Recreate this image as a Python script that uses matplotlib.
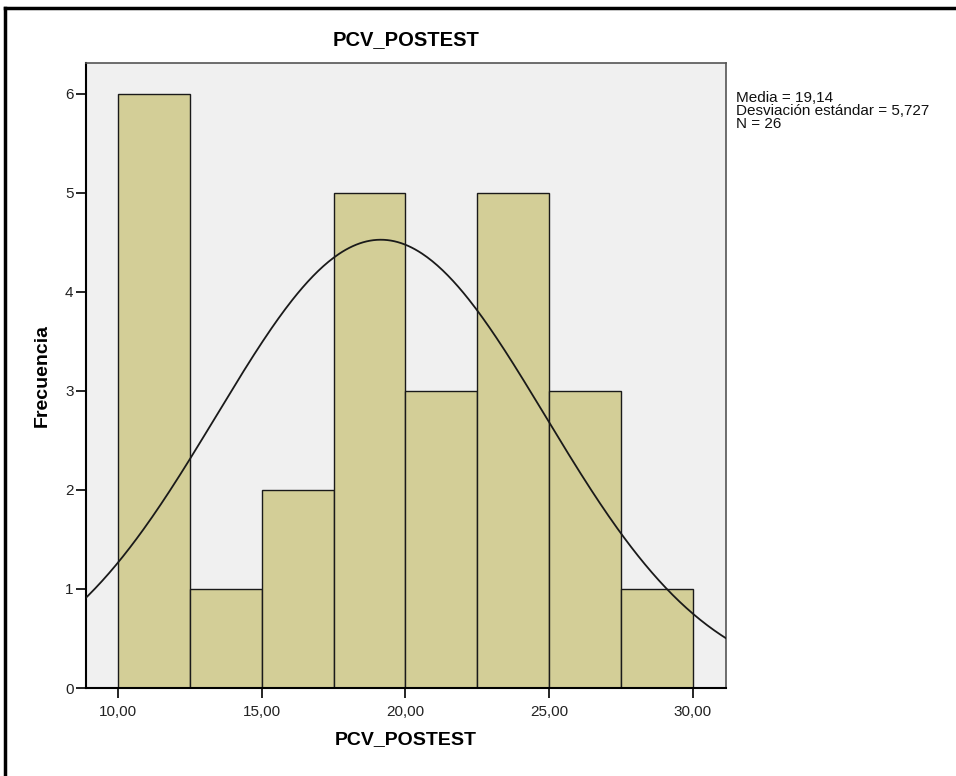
import numpy as np
import matplotlib
matplotlib.use("Agg")
import matplotlib.pyplot as plt
from matplotlib.lines import Line2D

plt.rcParams["font.family"] = ["Liberation Sans", "DejaVu Sans"]

# histogram bins (edges) and counts
BIN_EDGES = [10.0, 12.5, 15.0, 17.5, 20.0, 22.5, 25.0, 27.5, 30.0]
COUNTS = [6, 1, 2, 5, 3, 5, 3, 1]
MEAN = 19.14
STD = 5.727
N = 26
X_TICKS = [10, 15, 20, 25, 30]
X_TICK_LABELS = ["10,00", "15,00", "20,00", "25,00", "30,00"]
Y_TICKS = [0, 1, 2, 3, 4, 5, 6]
STATS_LINES = ["Media = 19,14", "Desviación estándar = 5,727", "N = 26"]

W, H = 956, 776
fig = plt.figure(figsize=(W / 100, H / 100), dpi=100)
fig.patch.set_facecolor("white")

# outer frame: only top and left edges are visible in the crop
fig.lines.append(Line2D([5 / W, 1.0], [1 - 8 / H, 1 - 8 / H],
                        transform=fig.transFigure, color="black", linewidth=2.5))
fig.lines.append(Line2D([5 / W, 5 / W], [0.0, 1 - 8 / H],
                        transform=fig.transFigure, color="black", linewidth=2.5))

left, right, top, bottom = 86, 726, 63, 688
ax = fig.add_axes([left / W, 1 - bottom / H, (right - left) / W, (bottom - top) / H])
ax.set_facecolor("#F0F0F0")

widths = np.diff(BIN_EDGES)
ax.bar(BIN_EDGES[:-1], COUNTS, width=widths, align="edge",
       color="#D3CE97", edgecolor="#1a1a1a", linewidth=1.0, zorder=2)

xs = np.linspace(8.0, 32.0, 400)
bw = widths[0]
ys = N * bw / (STD * np.sqrt(2 * np.pi)) * np.exp(-0.5 * ((xs - MEAN) / STD) ** 2)
ax.plot(xs, ys, color="#1a1a1a", linewidth=1.3, zorder=3)

ax.set_xlim(8.887, 31.15)
ax.set_ylim(0, 6.313)
ax.set_xticks(X_TICKS)
ax.set_xticklabels(X_TICK_LABELS)
ax.set_yticks(Y_TICKS)
for s in ["top", "right"]:
    ax.spines[s].set_color("#555555")
    ax.spines[s].set_linewidth(1.2)
for s in ["left", "bottom"]:
    ax.spines[s].set_color("black")
    ax.spines[s].set_linewidth(1.5)
ax.tick_params(axis="both", length=7, width=1.2, labelsize=11, color="black",
               labelcolor="#222222")
ax.tick_params(axis="x", pad=5)
ax.tick_params(axis="y", pad=2)

ax.set_xlabel("PCV_POSTEST", fontsize=14, fontweight="bold", labelpad=9)
ax.set_ylabel("Frecuencia", fontsize=14, fontweight="bold", labelpad=10)
ax.set_title("PCV_POSTEST", fontsize=14.5, fontweight="bold", pad=13)

# summary statistics, one line at a time (tight SPSS line pitch)
for i, line in enumerate(STATS_LINES):
    fig.text(736 / W, 1 - (98 + 13 * i) / H, line,
             ha="left", va="center", fontsize=11, color="#111111")

fig.savefig("out.png", dpi=100, facecolor="white")
